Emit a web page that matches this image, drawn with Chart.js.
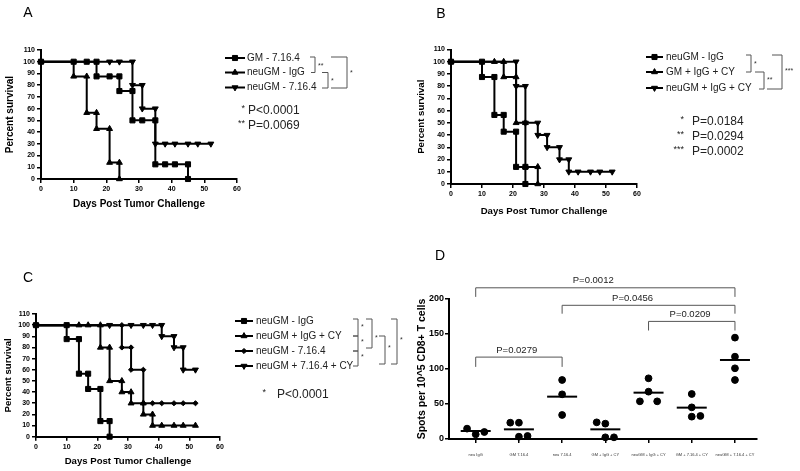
<!DOCTYPE html>
<html>
<head>
<meta charset="utf-8">
<script src="https://cdn.jsdelivr.net/npm/chart.js@4.4.1/dist/chart.umd.min.js"></script>
<style>
html, body { margin: 0; padding: 0; background: #fff; }
#wrap { position: relative; width: 800px; height: 471px; overflow: hidden; }
canvas { position: absolute; }
</style>
</head>
<body>
<div id="wrap">
    <canvas id="chartA" width="400" height="230" style="left:0;top:0"></canvas>
    <canvas id="chartB" width="400" height="230" style="left:400px;top:0"></canvas>
    <canvas id="chartC" width="410" height="241" style="left:0;top:230px"></canvas>
    <canvas id="chartD" width="400" height="241" style="left:400px;top:230px"></canvas>
</div>
<script>
/*==================================================
DATA
==================================================*/

// Panel A
const daysA_gm716 = [0, 10, 14, 17, 17, 21, 24, 24, 28, 28, 31, 35, 35, 38, 41, 45, 45];
const survA_gm716 = [100, 100, 100, 100, 87.5, 87.5, 87.5, 75, 75, 50, 50, 50, 12.5, 12.5, 12.5, 12.5, 0];
const daysA_neuIgg = [0, 10, 14, 14, 17, 17, 21, 21, 24, 24];
const survA_neuIgg = [100, 87.5, 87.5, 56.5, 56.5, 42.8, 42.8, 14, 14, 0];
const daysA_neu716 = [0, 21, 24, 28, 28, 31, 31, 35, 35, 38, 41, 45, 48, 52];
const survA_neu716 = [100, 100, 100, 100, 80, 80, 60, 60, 30, 30, 30, 30, 30, 30];

// Panel B
const daysB_neuIgg = [0, 10, 10, 14, 14, 17, 17, 21, 21, 24, 24];
const survB_neuIgg = [100, 100, 87.5, 87.5, 56.5, 56.5, 42.8, 42.8, 14, 14, 0];
const daysB_gmIggCy = [0, 14, 17, 17, 21, 21, 24, 24, 28, 28];
const survB_gmIggCy = [100, 100, 100, 87.5, 87.5, 50, 50, 14, 14, 0];
const daysB_neuIggCy = [0, 21, 21, 24, 24, 28, 28, 31, 31, 35, 35, 38, 38, 41, 45, 48, 52];
const survB_neuIggCy = [100, 100, 80, 80, 50, 50, 40, 40, 30, 30, 20, 20, 10, 10, 10, 10, 10];

// Panel C
const daysC_neuIgg = [0, 10, 10, 14, 14, 17, 17, 21, 21, 24, 24];
const survC_neuIgg = [100, 100, 87.5, 87.5, 56.5, 56.5, 42.8, 42.8, 14, 14, 0];
const daysC_neuIggCy = [0, 14, 17, 21, 21, 24, 24, 28, 28, 31, 31, 35, 35, 38, 38, 41, 45, 48, 52];
const survC_neuIggCy = [100, 100, 100, 100, 80, 80, 50, 50, 40, 40, 30, 30, 20, 20, 10, 10, 10, 10, 10];
const daysC_neu716 = [0, 28, 28, 31, 31, 35, 35, 38, 41, 45, 48, 52];
const survC_neu716 = [100, 100, 80, 80, 60, 60, 30, 30, 30, 30, 30, 30];
const daysC_neu716Cy = [0, 24, 31, 35, 38, 41, 41, 45, 45, 48, 48, 52];
const survC_neu716Cy = [100, 100, 100, 100, 100, 100, 90, 90, 80, 80, 60, 60];

// Panel D
const groupsD = ["neu IgG", "GM 7.16.4", "neu 7.16.4", "GM + IgG + CY", "neuGM + IgG + CY", "GM + 7.16.4 + CY", "neuGM + 7.16.4 + CY"];
const spotsD = [
    [14.8, 6.7, 10],
    [23.3, 23.3, 3.3, 4.3],
    [84.3, 63.8, 34.3],
    [23.8, 21.9, 2.4, 2.4],
    [86.7, 67.6, 53.8, 53.8],
    [64.3, 45.2, 31.9, 32.9],
    [144.8, 117.6, 101, 84.3]
];
// horizontal scatter of the dots inside each column (column units)
const jitterD = [
    [-0.2, 0, 0.2],
    [-0.2, 0, 0, 0.2],
    [0, 0, 0],
    [-0.2, 0, 0, 0.2],
    [0, 0, -0.2, 0.2],
    [0, 0, 0, 0.2],
    [0, 0, 0, 0]
];
const meanD = [11.4, 13.8, 60.5, 13.8, 66.2, 44.8, 112.9];
const bracketsD = [
    { from: 1, to: 3, top: 117, leg: 103, label: "P=0.0279", at: 1.95 },
    { from: 1, to: 7, top: 216, leg: 203, label: "P=0.0012", at: 3.72 },
    { from: 3, to: 7, top: 191, leg: 179, label: "P=0.0456", at: 4.63 },
    { from: 5, to: 7, top: 168, leg: 155, label: "P=0.0209", at: 5.96 }
];

/*==================================================
HELPERS
==================================================*/

const FONT = 'Arial, "Liberation Sans", Helvetica, sans-serif';

function pts(days, surv) {
    return days.map((d, i) => ({ x: d, y: surv[i] }));
}

function survSet(label, days, surv, style, rot, radius) {
    return {
        label: label,
        data: pts(days, surv),
        stepped: "before",
        borderColor: "#000",
        backgroundColor: "#000",
        borderWidth: 2,
        pointStyle: style,
        pointRotation: rot || 0,
        pointRadius: radius || 3.5,
        pointBorderWidth: 1,
        pointBackgroundColor: "#000",
        pointBorderColor: "#000",
        clip: false
    };
}

function survScales(c) {
    return {
        x: {
            type: "linear",
            min: 0,
            max: 60,
            ticks: { stepSize: 10, color: "#000", padding: 2, font: { family: FONT, size: 7, weight: "bold" } },
            grid: { drawOnChartArea: false, tickLength: 4, color: "#000", lineWidth: 1.5 },
            border: { color: "#000", width: 2 },
            title: { display: true, text: "Days Post Tumor Challenge", color: "#000", padding: 0,
                font: { family: FONT, size: c.titleSize, weight: "bold" } },
            afterFit: s => { s.height = c.xh; s.paddingLeft = 0; s.paddingRight = 0; }
        },
        y: {
            min: 0,
            max: 110,
            ticks: { stepSize: 10, autoSkip: false, color: "#000", padding: 2, font: { family: FONT, size: 7, weight: "bold" } },
            grid: { drawOnChartArea: false, tickLength: 4, color: "#000", lineWidth: 1.5 },
            border: { color: "#000", width: 2 },
            title: { display: true, text: "Percent survival", color: "#000", padding: { top: c.ytp, bottom: 0 },
                font: { family: FONT, size: c.titleSize, weight: "bold" } },
            afterFit: s => { s.width = c.yw; s.paddingTop = 0; s.paddingBottom = 0; }
        }
    };
}

/*==================================================
PANEL DECORATION (letter, legend, brackets, p values)
==================================================*/

function makeDecor(o) {

    return {

        id: "decor",

        afterDraw(chart) {

            const ctx = chart.ctx;
            ctx.save();
            ctx.textBaseline = "middle";

            ctx.fillStyle = "#000";
            ctx.font = "14px " + FONT;
            ctx.textAlign = "center";
            ctx.fillText(o.letter[0], o.letter[1], o.letter[2]);

            if (o.legend) {
                const L = o.legend;
                ctx.font = L.font + "px " + FONT;
                ctx.textAlign = "left";
                chart.data.datasets.forEach((ds, i) => {
                    const y = L.rows[i];
                    ctx.strokeStyle = "#000";
                    ctx.lineWidth = 2;
                    ctx.beginPath();
                    ctx.moveTo(L.x0, y);
                    ctx.lineTo(L.x1, y);
                    ctx.stroke();
                    ctx.fillStyle = "#000";
                    ctx.lineWidth = 1;
                    Chart.helpers.drawPoint(ctx, {
                        pointStyle: ds.pointStyle,
                        rotation: ds.pointRotation || 0,
                        radius: ds.pointRadius,
                        borderWidth: 1
                    }, (L.x0 + L.x1) / 2, y);
                    ctx.fillStyle = "#222";
                    ctx.fillText(ds.label, L.textX, y);
                });
            }

            if (o.brackets) {
                ctx.strokeStyle = "#555";
                ctx.lineWidth = 1;
                ctx.fillStyle = "#333";
                ctx.font = "7px " + FONT;
                ctx.textAlign = "left";
                o.brackets.forEach(b => {
                    ctx.beginPath();
                    ctx.moveTo(b.a1, b.y1);
                    ctx.lineTo(b.x, b.y1);
                    ctx.lineTo(b.x, b.y2);
                    ctx.lineTo(b.a2, b.y2);
                    ctx.stroke();
                    ctx.fillText(b.label, b.x + 3, b.ly);
                });
            }

            if (o.pvals) {
                const P = o.pvals;
                ctx.fillStyle = "#222";
                P.items.forEach(it => {
                    ctx.font = "9px " + FONT;
                    ctx.textAlign = "right";
                    ctx.fillText(it[0], P.starX, it[2] - 2);
                    ctx.font = P.font + "px " + FONT;
                    ctx.textAlign = "left";
                    ctx.fillText(it[1], P.textX, it[2]);
                });
            }

            ctx.restore();

        }

    };

}

const baseOptions = {
    responsive: false,
    animation: false,
    events: []
};

/*==================================================
PANEL A
==================================================*/

new Chart(document.getElementById("chartA"), {
    type: "line",
    data: {
        datasets: [
            survSet("GM - 7.16.4", daysA_gm716, survA_gm716, "rect", 0, 3.6),
            survSet("neuGM - IgG", daysA_neuIgg, survA_neuIgg, "triangle", 0, 3.4),
            survSet("neuGM - 7.16.4", daysA_neu716, survA_neu716, "triangle", 180, 3.4)
        ]
    },
    options: Object.assign({}, baseOptions, {
        layout: { padding: { left: 0, top: 50, right: 163, bottom: 20 } },
        plugins: { legend: { display: false }, tooltip: { enabled: false } },
        scales: survScales({ xh: 31, yw: 41, ytp: 4.4, titleSize: 10 })
    }),
    plugins: [makeDecor({
        letter: ["A", 28, 13],
        legend: { x0: 225, x1: 245, textX: 247, rows: [58, 72.5, 87.5], font: 10 },
        brackets: [
            { a1: 310, x: 315, y1: 57, y2: 72.5, a2: 311, label: "**", ly: 66 },
            { a1: 322, x: 328, y1: 72.5, y2: 88, a2: 322, label: "*", ly: 81 },
            { a1: 331, x: 347, y1: 57, y2: 88, a2: 331, label: "*", ly: 73 }
        ],
        pvals: { starX: 245, textX: 248, font: 12, items: [["*", "P<0.0001", 111], ["**", "P=0.0069", 126]] }
    })]
});

/*==================================================
PANEL B
==================================================*/

new Chart(document.getElementById("chartB"), {
    type: "line",
    data: {
        datasets: [
            survSet("neuGM - IgG", daysB_neuIgg, survB_neuIgg, "rect", 0, 3.6),
            survSet("GM + IgG + CY", daysB_gmIggCy, survB_gmIggCy, "triangle", 0, 3.4),
            survSet("neuGM + IgG + CY", daysB_neuIggCy, survB_neuIggCy, "triangle", 180, 3.4)
        ]
    },
    options: Object.assign({}, baseOptions, {
        layout: { padding: { left: 11, top: 49.5, right: 163, bottom: 12.5 } },
        plugins: { legend: { display: false }, tooltip: { enabled: false } },
        scales: survScales({ xh: 33.5, yw: 40, ytp: 5, titleSize: 9.6 })
    }),
    plugins: [makeDecor({
        letter: ["B", 41, 14],
        legend: { x0: 246, x1: 263, textX: 266, rows: [57, 72, 88], font: 10 },
        brackets: [
            { a1: 346, x: 351, y1: 55, y2: 72, a2: 346, label: "*", ly: 64 },
            { a1: 355, x: 364, y1: 72, y2: 89, a2: 359, label: "**", ly: 80 },
            { a1: 372, x: 382, y1: 55, y2: 89, a2: 367, label: "***", ly: 71 }
        ],
        pvals: { starX: 284, textX: 292, font: 12, items: [["*", "P=0.0184", 122], ["**", "P=0.0294", 137], ["***", "P=0.0002", 152]] }
    })]
});

/*==================================================
PANEL C
==================================================*/

new Chart(document.getElementById("chartC"), {
    type: "line",
    data: {
        datasets: [
            survSet("neuGM - IgG", daysC_neuIgg, survC_neuIgg, "rect", 0, 3.6),
            survSet("neuGM + IgG + CY", daysC_neuIggCy, survC_neuIggCy, "triangle", 0, 3.4),
            survSet("neuGM - 7.16.4", daysC_neu716, survC_neu716, "rectRot", 0, 2.6),
            survSet("neuGM + 7.16.4 + CY", daysC_neu716Cy, survC_neu716Cy, "triangle", 180, 3.4)
        ]
    },
    options: Object.assign({}, baseOptions, {
        layout: { padding: { left: 0, top: 84, right: 190, bottom: 4 } },
        plugins: { legend: { display: false }, tooltip: { enabled: false } },
        scales: survScales({ xh: 30.3, yw: 36, ytp: 2.5, titleSize: 9.6 })
    }),
    plugins: [makeDecor({
        letter: ["C", 28, 48],
        legend: { x0: 235, x1: 253, textX: 256, rows: [91, 106, 121, 136], font: 10 },
        brackets: [
            { a1: 353, x: 358, y1: 89, y2: 106, a2: 353, label: "*", ly: 97 },
            { a1: 353, x: 358, y1: 106, y2: 121, a2: 353, label: "*", ly: 112 },
            { a1: 353, x: 358, y1: 121, y2: 136, a2: 353, label: "*", ly: 127 },
            { a1: 366, x: 372, y1: 89, y2: 118, a2: 366, label: "*", ly: 108 },
            { a1: 379, x: 385, y1: 106, y2: 134, a2: 379, label: "*", ly: 118 },
            { a1: 391, x: 397, y1: 89, y2: 134, a2: 391, label: "*", ly: 110 }
        ],
        pvals: { starX: 266, textX: 277, font: 12, items: [["*", "P<0.0001", 165]] }
    })]
});

/*==================================================
PANEL D (ELISPOT SCATTER)
==================================================*/

const dotsD = [];
spotsD.forEach((vals, g) => {
    vals.forEach((v, k) => {
        dotsD.push({ x: g + 1 + jitterD[g][k], y: v });
    });
});

const meanPts = meanD.map((m, g) => ({ x: g + 1, y: m }));

const bracketPlugin = {
    id: "bracketsD",
    afterDraw(chart) {
        const ctx = chart.ctx;
        const xs = chart.scales.x;
        const ys = chart.scales.y;
        ctx.save();
        ctx.strokeStyle = "#555";
        ctx.lineWidth = 1;
        ctx.fillStyle = "#222";
        ctx.font = "9.5px " + FONT;
        ctx.textAlign = "center";
        ctx.textBaseline = "middle";
        bracketsD.forEach(b => {
            const x1 = xs.getPixelForValue(b.from);
            const x2 = xs.getPixelForValue(b.to);
            const yt = ys.getPixelForValue(b.top);
            const yl = ys.getPixelForValue(b.leg);
            ctx.beginPath();
            ctx.moveTo(x1, yl);
            ctx.lineTo(x1, yt);
            ctx.lineTo(x2, yt);
            ctx.lineTo(x2, yl);
            ctx.stroke();
            ctx.fillText(b.label, xs.getPixelForValue(b.at), yt - 7);
        });
        ctx.restore();
    }
};

new Chart(document.getElementById("chartD"), {
    type: "scatter",
    data: {
        datasets: [
            {
                label: "Spots",
                data: dotsD,
                pointStyle: "circle",
                pointRadius: 3.4,
                backgroundColor: "#000",
                borderColor: "#000",
                clip: false
            },
            {
                label: "Mean",
                data: meanPts,
                pointStyle: "line",
                pointRadius: 15,
                pointBorderWidth: 2,
                borderColor: "#000",
                backgroundColor: "#000",
                clip: false
            }
        ]
    },
    options: Object.assign({}, baseOptions, {
        layout: { padding: { left: 11, top: 69, right: 43, bottom: 0 } },
        plugins: { legend: { display: false }, tooltip: { enabled: false } },
        scales: {
            x: {
                type: "linear",
                min: 0.382,
                max: 7.51,
                afterBuildTicks: s => { s.ticks = groupsD.map((g, i) => ({ value: i + 1 })); },
                ticks: {
                    autoSkip: false,
                    maxRotation: 0,
                    color: "#333",
                    padding: 9.5,
                    font: { family: FONT, size: 4 },
                    callback: v => groupsD[Math.round(v) - 1]
                },
                grid: { drawOnChartArea: false, tickLength: 4, color: "#000", lineWidth: 1.5 },
                border: { color: "#000", width: 2 },
                afterFit: s => { s.height = 32; s.paddingLeft = 0; s.paddingRight = 0; }
            },
            y: {
                min: 0,
                max: 200,
                ticks: { stepSize: 50, color: "#000", padding: 1, font: { family: FONT, size: 9, weight: "bold" } },
                grid: { drawOnChartArea: false, tickLength: 4, color: "#000", lineWidth: 1.5 },
                border: { color: "#000", width: 2 },
                title: {
                    display: true,
                    text: "Spots per 10^5 CD8+ T cells",
                    color: "#000",
                    padding: { top: 4.7, bottom: 0 },
                    font: { family: FONT, size: 10.5, weight: "bold" }
                },
                afterFit: s => { s.width = 38; s.paddingTop = 0; s.paddingBottom = 0; }
            }
        }
    }),
    plugins: [bracketPlugin, makeDecor({ letter: ["D", 40, 26] })]
});
</script>
</body>
</html>
